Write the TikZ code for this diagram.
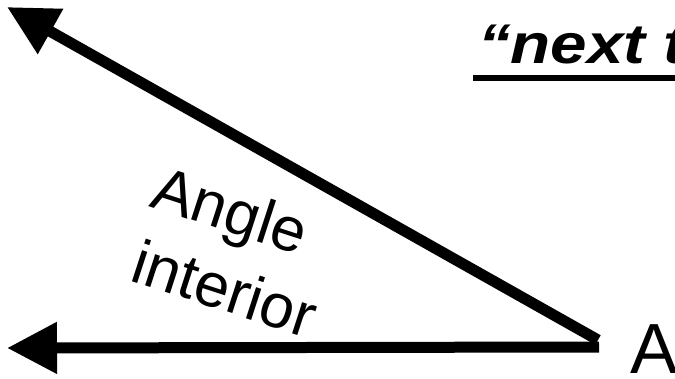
\documentclass[tikz,border=0pt]{standalone}
\usepackage{fontspec}
\setmainfont{Liberation Sans}
\newfontfamily\headfont[FakeStretch=1.17]{Liberation Sans}
\usepackage{tikz}
\usetikzlibrary{arrows.meta}
\tikzset{
  ray/.style={line width=11pt, -{Triangle[length=50pt,width=49pt]}},
  anglelabel/.style={font=\fontsize{62}{70}\selectfont, anchor=base west, inner sep=0pt, rotate=-18},
  vertexlabel/.style={font=\fontsize{71}{80}\selectfont, anchor=base west, inner sep=0pt},
  heading/.style={font=\headfont\fontsize{56}{60}\selectfont\bfseries\itshape, anchor=base west, inner sep=0pt}
}
\begin{document}
\begin{tikzpicture}[x=1pt,y=-1pt]
\useasboundingbox (0,0) rectangle (675,378);
\fill[white] (0,0) rectangle (675,378);

\coordinate (vertex) at (599,347);
\coordinate (upperend) at (598,340);
\coordinate (uppertip) at (7,7);
\coordinate (lowertip) at (7,348);

\draw[ray] (upperend) -- (uppertip);
\draw[ray] (vertex) -- (lowertip);

\node[vertexlabel] (A) at (630,373) {A};
\node[anglelabel] (angle) at (148,206) {Angle};
\node[anglelabel] (interior) at (128,280) {interior};

\node[heading] (title) at (478,63) {“next t};
\draw[line width=6pt] (473,78) -- (675,78);
\end{tikzpicture}
\end{document}
